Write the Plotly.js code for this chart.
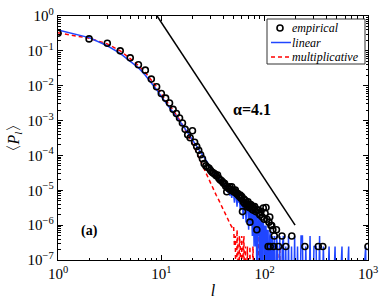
<!DOCTYPE html>
<html>
<head>
<meta charset="utf-8">
<script src="https://cdn.plot.ly/plotly-3.0.1.min.js"></script>
<style>html,body{margin:0;padding:0;background:#fff;}#chart{width:382px;height:299px;}</style>
</head>
<body>
<div id="chart"></div>
<script>
// ---- data ----
const empL = [1,2,3,4,5,6,7,8,9,10,11,12,13,14,15,16,17,18,19,20,21,22,23,24,25,
  26,27,28,29,30,31,32,33,34,35,36,37,38,39,40,41,42,43,44,45,46,47,48,49,50,
  51,52,53,54,55,56,57,58,59,60,61,62,63,64,65,66,67,68,69,70,71,72,73,74,75,76,77,78,
  80,82,84,85,87,88,90,92,95,97,99,101,103,105,108,110,112,113,115,117,120,122,124,130,136,147,160,183,245,330,365,1000];
const empP = [0.32,0.22,0.165,0.10,0.063,0.040,0.028,0.0155,0.0093,0.0060,
  0.0044,0.0032,0.0021,0.0016,0.00118,0.00085,0.00056,0.00039,0.00032,0.00051,
  0.00024,0.00018,0.00014,0.000105,0.000080,
  5.8e-5,5.0e-5,4.6e-5,4.3e-5,3.7e-5,3.3e-5,3.1e-5,2.9e-5,2.6e-5,2.75e-5,
  2.2e-5,2.0e-5,1.9e-5,1.75e-5,1.6e-5,1.55e-5,1.3e-5,9.1e-6,1.2e-5,1.1e-5,
  1.25e-5,1.05e-5,1.26e-5,9.5e-6,1.0e-5,8.8e-6,1.02e-5,8.5e-6,7.8e-6,8.1e-6,
  7.1e-6,6.6e-6,7.3e-6,5.9e-6,6.6e-6,2.45e-6,4.7e-6,5.6e-6,4.2e-6,5.1e-6,
  3.9e-6,4.4e-6,3.4e-6,4.7e-6,3.7e-6,3.2e-6,1.22e-6,3.9e-6,3.8e-6,2.9e-6,
  3.4e-6,2.7e-6,3.2e-6,
  3.4e-6,2.45e-6,7.35e-7,2.7e-6,2.7e-6,2.2e-6,1.96e-6,2.45e-6,1.72e-6,3.1e-6,
  1.47e-6,2.2e-6,3.2e-6,1.47e-6,2.45e-7,1.22e-6,1.72e-6,2.45e-7,9.8e-7,9.8e-7,
  7.35e-7,2.45e-7,4.9e-7,7.35e-7,2.45e-7,4.9e-7,2.45e-7,4.9e-7,2.45e-7,2.45e-7,2.45e-7,2.45e-7];

const linL = [1,2,3,4,5,6,7,8,9,10,11,12,13,14,15,16,17,18,19,20,21,22,23,24,25,
  26,27,28,29,30,31,32,33,34,35,36,37,38,39,40,
  41,42,43,44,45,46,47,48,49,50,51,52,53,54,55,56,57,58,59,60,
  61,62,63,64,65,66,67,68,69,70,71,72,73,74,75,76,77,78,79,80,
  81,82,83,84,85,86,87,88,89,90,91,92,93,94,95,96,97,98,99,100,
  101,102,103,104,105,106,107,108,110,112,114,116,118,120,122,124,127,130,133,136,
  140,144,148,152,156,160,165,170,176,182,188,195,200,208,215,225,232,240,250,262,
  275,285,300,315,325,340,350,370,390,420,440,480,500,560,580,650,660,800,950,960];
const linP = [0.40,0.24,0.14,0.085,0.050,0.033,0.020,0.0125,0.0077,0.0049,
  0.0034,0.0024,0.0017,0.00128,0.00098,0.00075,0.00058,0.00045,0.00036,0.00028,
  0.00023,0.000185,0.000150,0.000122,0.000100,
  8.4e-5,7.1e-5,6.2e-5,5.0e-5,4.5e-5,3.8e-5,3.5e-5,2.9e-5,2.8e-5,2.3e-5,
  2.2e-5,1.8e-5,1.8e-5,1.5e-5,1.45e-5,
  1.5e-5,1.0e-5,1.4e-5,8.5e-6,1.2e-5,7.0e-6,1.05e-5,6.0e-6,9.8e-6,8.6e-6,
  4.4e-6,8.1e-6,7.3e-6,3.4e-6,6.9e-6,4.4e-6,6.4e-6,2.7e-6,3.2e-6,5.4e-6,
  4.7e-6,1.5e-6,4.4e-6,3.7e-6,4.2e-6,1.2e-6,3.4e-6,3.9e-6,2.7e-6,7.35e-7,
  3.2e-6,2.9e-6,1.0e-6,3.4e-6,2.2e-6,4.9e-7,2.7e-6,1.96e-6,2.45e-7,2.45e-6,
  1.72e-6,2.45e-7,2.2e-6,1.22e-6,0,1.96e-6,1.47e-6,4.9e-7,1.72e-6,0,
  1.22e-6,1.47e-6,2.45e-7,1.22e-6,9.8e-7,0,1.22e-6,7.35e-7,2.45e-7,9.8e-7,
  0,7.35e-7,9.8e-7,2.45e-7,7.35e-7,0,4.9e-7,7.35e-7,0,4.9e-7,
  7.35e-7,0,4.9e-7,2.45e-7,0,4.9e-7,0,4.9e-7,2.45e-7,0,
  4.9e-7,0,2.45e-7,4.9e-7,0,2.45e-7,0,4.9e-7,0,2.45e-7,
  0,4.9e-7,0,2.45e-7,0,4.9e-7,4.9e-7,0,2.45e-7,0,
  4.9e-7,0,2.45e-7,2.45e-7,0,4.9e-7,0,2.45e-7,0,2.45e-7,
  0,2.45e-7,0,2.45e-7,0,2.45e-7,0,0,2.45e-7,0];

const mulL = [1,2,3,4,5,6,7,8,9,10,11,12,13,14,15,16,17,18,19,20,
  21,22,23,24,25,26,27,28,29,30,32,34,36,38,40,42,44,46,48,
  50,51,52,53,54,55,56,57,58,59,60,61,62,63,64,65,66,68,70,72,74,77,79,84,86,88,95,120,140,142,200];
const mulP = [0.33,0.23,0.158,0.10,0.060,0.038,0.024,0.0148,0.0093,0.0058,
  0.0040,0.0028,0.0020,0.00145,0.00105,0.00076,0.00056,0.00041,0.00030,0.00022,
  0.00016,0.000126,0.000095,0.000072,0.000055,4.2e-5,3.2e-5,2.4e-5,1.9e-5,1.5e-5,
  1.02e-5,7.2e-6,5.2e-6,3.8e-6,2.8e-6,2.1e-6,1.5e-6,1.12e-6,8.9e-7,
  9.8e-7,2.45e-7,4.9e-7,0,7.35e-7,2.45e-7,0,4.9e-7,2.45e-7,0,4.9e-7,0,2.45e-7,4.9e-7,0,2.45e-7,0,
  2.45e-7,0,2.45e-7,0,2.45e-7,0,0,4.9e-7,0,0,0,2.45e-7,0,0];

const slopeL = [9.1, 197];
const slopeP = [1, 1e-6];

const seriesNames = ['empirical', 'linear', 'multiplicative'];
const xTickVals = [1, 10, 100, 1000];
const xTickText = ['10<sup>0</sup>', '10<sup>1</sup>', '10<sup>2</sup>', '10<sup>3</sup>'];
const yTickVals = [1e-7, 1e-6, 1e-5, 1e-4, 1e-3, 1e-2, 1e-1, 1];
const yTickText = ['10<sup>−7</sup>', '10<sup>−6</sup>', '10<sup>−5</sup>', '10<sup>−4</sup>',
  '10<sup>−3</sup>', '10<sup>−2</sup>', '10<sup>−1</sup>', '10<sup>0</sup>'];

// ---- build ----
const SERIF = 'Liberation Serif';
const BLUE = '#2046ff', RED = '#ff0000';
const off = v => (v > 0 ? v : 1e-10); // zero counts fall below the axis
function minorTicks(lo, hi) {
  const out = [];
  for (let e = lo; e < hi; e++) for (let m = 2; m <= 9; m++) out.push(m * Math.pow(10, e));
  return out;
}

const traces = [
  { x: mulL, y: mulP.map(off), type: 'scatter', mode: 'lines', name: seriesNames[2], showlegend: false,
    line: { color: RED, width: 1.5, dash: '4px,3px' } },
  { x: linL, y: linP.map(off), type: 'scatter', mode: 'lines', name: seriesNames[1], showlegend: false,
    line: { color: BLUE, width: 1.5 } },
  { x: empL, y: empP, type: 'scatter', mode: 'markers', name: seriesNames[0], showlegend: false,
    marker: { symbol: 'circle-open', size: 6, color: 'black', line: { width: 1.6, color: 'black' } } },
  { x: slopeL, y: slopeP, type: 'scatter', mode: 'lines', showlegend: false,
    line: { color: 'black', width: 1.5 } }
];

const axisCommon = {
  type: 'log', showgrid: false, zeroline: false,
  ticks: 'inside', ticklen: 5, tickwidth: 1, tickcolor: 'black',
  showline: true, linecolor: 'black', linewidth: 1.3, mirror: 'ticks',
  tickfont: { family: SERIF, size: 15, color: 'black' }
};

// legend box drawn in pixel terms of the plot area (left 58, top 16, 310 x 244)
const px = p => (p - 58) / 310;
const py = p => (260 - p) / 244;
const legendRows = [28, 42.5, 57];

const layout = {
  width: 382, height: 299,
  margin: { l: 58, r: 14, t: 16, b: 39 },
  paper_bgcolor: 'white', plot_bgcolor: 'white',
  font: { family: SERIF, color: 'black', size: 15 },
  showlegend: false,
  xaxis: Object.assign({}, axisCommon, {
    range: [0, 3], tickmode: 'array', tickvals: xTickVals, ticktext: xTickText,
    minor: { tickmode: 'array', tickvals: minorTicks(0, 3), ticks: 'inside', ticklen: 2.5, tickcolor: 'black', tickwidth: 1, showgrid: false },
    title: { text: '<i>l</i>', font: { family: SERIF, size: 16 }, standoff: 4 }
  }),
  yaxis: Object.assign({}, axisCommon, {
    range: [-7, 0], tickmode: 'array', tickvals: yTickVals, ticktext: yTickText,
    minor: { tickmode: 'array', tickvals: minorTicks(-7, 0), ticks: 'inside', ticklen: 2.5, tickcolor: 'black', tickwidth: 1, showgrid: false },
    title: { text: '〈<i>P</i><sub><i>l</i></sub>〉', font: { family: SERIF, size: 16 }, standoff: 4 }
  }),
  shapes: [
    { type: 'rect', xref: 'paper', yref: 'paper', x0: px(267), x1: px(365), y0: py(64), y1: py(19),
      fillcolor: 'white', line: { color: '#333', width: 1 }, layer: 'above' },
    { type: 'circle', xref: 'paper', yref: 'paper', xsizemode: 'pixel', ysizemode: 'pixel',
      xanchor: px(280), yanchor: py(legendRows[0]), x0: -3, x1: 3, y0: -3, y1: 3,
      line: { color: 'black', width: 1.6 }, layer: 'above' },
    { type: 'line', xref: 'paper', yref: 'paper', x0: px(271), x1: px(291), y0: py(legendRows[1]), y1: py(legendRows[1]),
      line: { color: BLUE, width: 1.5 }, layer: 'above' },
    { type: 'line', xref: 'paper', yref: 'paper', x0: px(271), x1: px(291), y0: py(legendRows[2]), y1: py(legendRows[2]),
      line: { color: RED, width: 1.5, dash: '4px,3px' }, layer: 'above' }
  ],
  annotations: [
    { xref: 'paper', yref: 'paper', x: 0.626, y: 0.615, text: '<b>α=4.1</b>', showarrow: false,
      font: { family: SERIF, size: 16, color: 'black' } },
    { xref: 'paper', yref: 'paper', x: 0.068, y: 0.079, text: '<b>(a)</b>', showarrow: false,
      font: { family: SERIF, size: 14, color: 'black' } }
  ].concat(seriesNames.map((n, i) => ({
    xref: 'paper', yref: 'paper', x: px(290), y: py(legendRows[i]), xanchor: 'left', yanchor: 'middle',
    text: '<i>' + n + '</i>', showarrow: false, font: { family: SERIF, size: 12, color: 'black' }
  })))
};

Plotly.newPlot('chart', traces, layout, { displayModeBar: false, staticPlot: true });
</script>
</body>
</html>
